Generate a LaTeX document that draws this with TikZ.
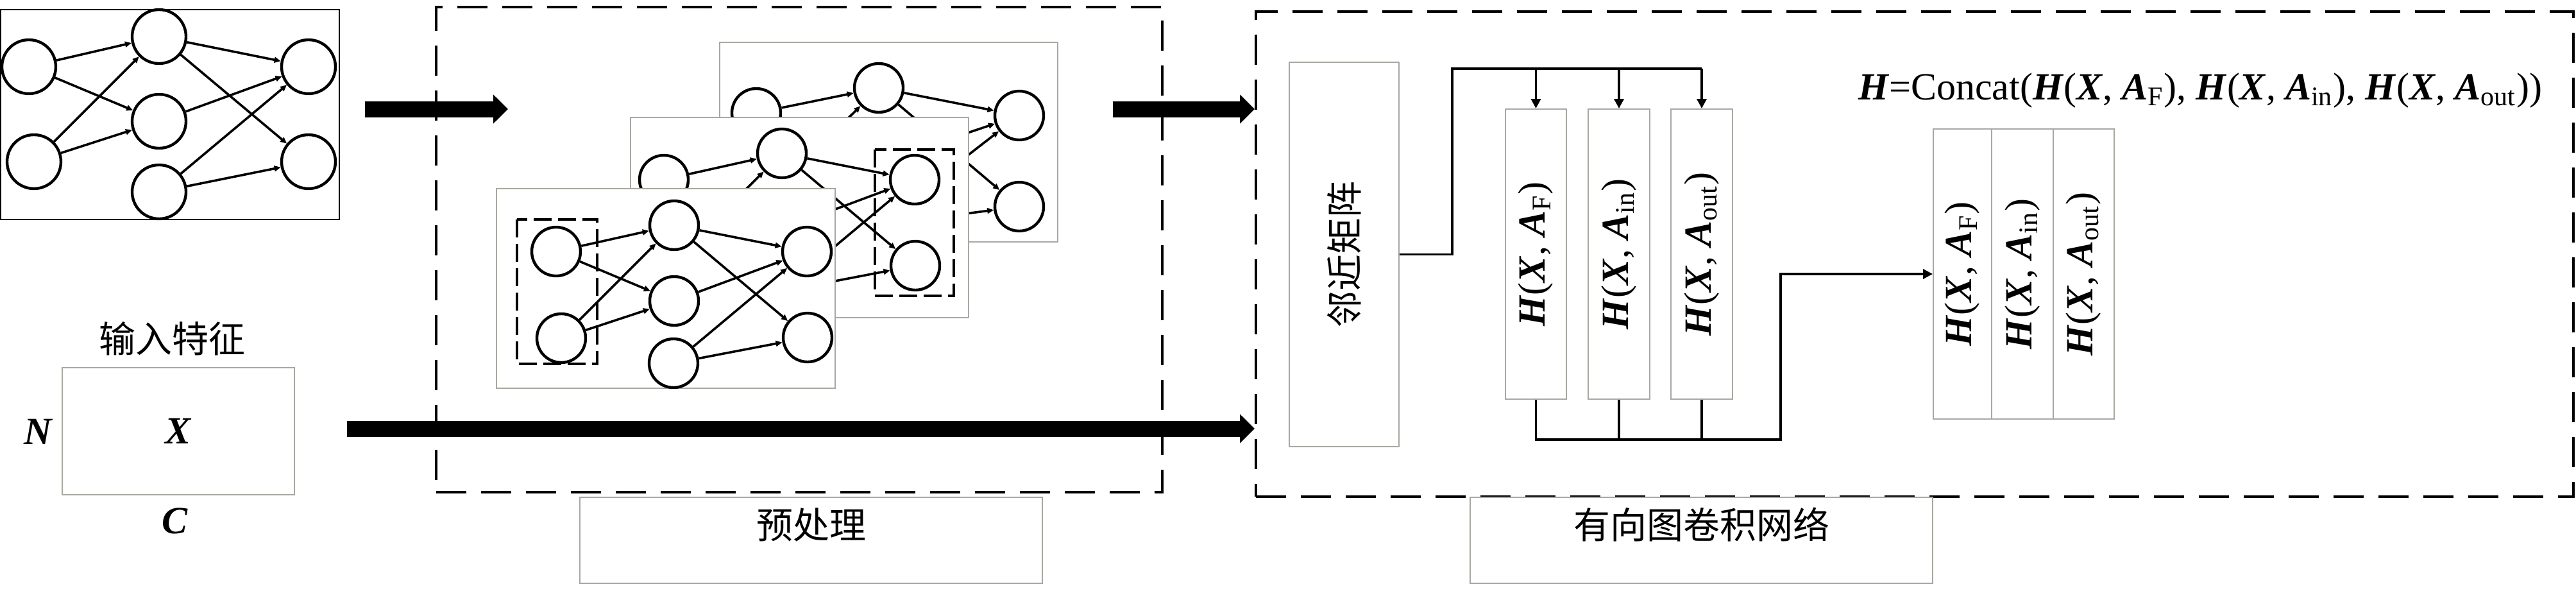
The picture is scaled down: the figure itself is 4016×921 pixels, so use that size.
\documentclass[tikz,border=0pt]{standalone}
\usepackage{fontspec}
\setmainfont{Liberation Serif}
\newfontfamily\cjk{Noto Sans CJK SC}
\usetikzlibrary{arrows.meta,fit}
\newcommand{\boldvar}[1]{\textbf{\textit{#1}}}

\tikzset{every picture/.style={line width=0.75pt}}
\tikzset{
  dashbox/.style={draw, line width=1pt, dash pattern=on 11.75pt off 5.75pt, inner sep=0pt},
  graybox/.style={draw={rgb, 255:red, 170; green, 167; blue, 163 }, line width=0.5pt, inner sep=0pt},
  panel/.style={graybox, fill=white},
  netframe/.style={draw, line width=0.6pt, inner sep=0pt},
  bignode/.style={circle, draw, fill=white, line width=1.1pt, inner sep=0pt, minimum size=21pt},
  gnode/.style={circle, draw, fill=white, line width=1.1pt, inner sep=0pt, minimum size=19pt},
  gedge/.style={line width=0.9pt, -{Triangle[length=2.5pt,width=2.2pt]}},
  subbox/.style={line width=0.9pt, dash pattern=on 7pt off 2.5pt},
  bigarrow/.style={line width=6.25pt, -{Triangle[length=5.75pt,width=11pt]}},
  conn/.style={line width=0.9pt},
  connarrow/.style={line width=0.9pt, -{Triangle[length=3.75pt,width=3.75pt]}},
  cjktext/.style={font=\cjk\fontsize{14.25}{17}\selectfont},
  vartext/.style={font=\fontsize{15}{18}\selectfont}
}

\begin{document}
\begin{tikzpicture}[x=0.25pt,y=0.25pt,yscale=-1,xscale=1]
	\useasboundingbox (0,0) rectangle (4016,921);

	%Shape: Dashed Rectangles
	\node[dashbox, fit={(680,11) (1812,767)}] (pre) {};
	\node[dashbox, fit={(1958,18) (4012,774)}] (gcn) {};

	%Input graph
	\node[netframe, fit={(1,15) (529,342)}] (net) {};
	\node[bignode] (al1) at (45,104) {};
	\node[bignode] (al2) at (53,252) {};
	\node[bignode] (am1) at (248,57) {};
	\node[bignode] (am2) at (248,189) {};
	\node[bignode] (am3) at (248,299) {};
	\node[bignode] (ar1) at (481,104) {};
	\node[bignode] (ar2) at (481,252) {};
	\draw[gedge] (al1) -- (am1);
	\draw[gedge] (al1) -- (am2);
	\draw[gedge] (al2) -- (am1);
	\draw[gedge] (al2) -- (am2);
	\draw[gedge] (am1) -- (ar1);
	\draw[gedge] (am1) -- (ar2);
	\draw[gedge] (am2) -- (ar1);
	\draw[gedge] (am3) -- (ar1);
	\draw[gedge] (am3) -- (ar2);

	%Input features
	\node[graybox, fit={(97,573) (459,771)}] (xbox) {};
	\node[cjktext] (xcap) at (268,528) {输入特征};
	\node[vartext] (xname) at (xbox) {\boldvar{X}};
	\node[vartext] (nrows) at (60,673) {\boldvar{N}};
	\node[vartext] (ncols) at (273,812) {\boldvar{C}};

	%Back panel
	\node[panel, fit={(1122,66) (1649,377)}] (bpanel) {};
	\node[gnode] (bl1) at (1179,176) {};
	\node[gnode] (bl2) at (1193,312) {};
	\node[gnode] (bm1) at (1370,137) {};
	\node[gnode] (bm2) at (1369,254) {};
	\node[gnode] (bm3) at (1368,351) {};
	\node[gnode] (br1) at (1589,180) {};
	\node[gnode] (br2) at (1589,322) {};
	\draw[gedge] (bl1) -- (bm1);
	\draw[gedge] (bl1) -- (bm2);
	\draw[gedge] (bl2) -- (bm1);
	\draw[gedge] (bl2) -- (bm2);
	\draw[gedge] (bm1) -- (br1);
	\draw[gedge] (bm1) -- (br2);
	\draw[gedge] (bm2) -- (br1);
	\draw[gedge] (bm3) -- (br1);
	\draw[gedge] (bm3) -- (br2);

	%Middle panel
	\node[panel, fit={(983,183) (1510,495)}] (mpanel) {};
	\node[gnode] (ml1) at (1035,280) {};
	\node[gnode] (ml2) at (1043,415) {};
	\node[gnode] (mm1) at (1219,239) {};
	\node[gnode] (mm2) at (1219,357) {};
	\node[gnode] (mm3) at (1218,454) {};
	\node[gnode] (mr1) at (1426,280) {};
	\node[gnode] (mr2) at (1427,414) {};
	\draw[gedge] (ml1) -- (mm1);
	\draw[gedge] (ml1) -- (mm2);
	\draw[gedge] (ml2) -- (mm1);
	\draw[gedge] (ml2) -- (mm2);
	\draw[gedge] (mm1) -- (mr1);
	\draw[gedge] (mm1) -- (mr2);
	\draw[gedge] (mm2) -- (mr1);
	\draw[gedge] (mm3) -- (mr1);
	\draw[gedge] (mm3) -- (mr2);
	\draw[subbox] (1364,233) rectangle (1487,461);

	%Front panel
	\node[panel, fit={(774,294) (1302,605)}] (fpanel) {};
	\node[gnode] (fl1) at (867,392) {};
	\node[gnode] (fl2) at (875,527) {};
	\node[gnode] (fm1) at (1051,351) {};
	\node[gnode] (fm2) at (1051,469) {};
	\node[gnode] (fm3) at (1050,566) {};
	\node[gnode] (fr1) at (1258,392) {};
	\node[gnode] (fr2) at (1259,526) {};
	\draw[gedge] (fl1) -- (fm1);
	\draw[gedge] (fl1) -- (fm2);
	\draw[gedge] (fl2) -- (fm1);
	\draw[gedge] (fl2) -- (fm2);
	\draw[gedge] (fm1) -- (fr1);
	\draw[gedge] (fm1) -- (fr2);
	\draw[gedge] (fm2) -- (fr1);
	\draw[gedge] (fm3) -- (fr1);
	\draw[gedge] (fm3) -- (fr2);
	\draw[subbox] (806,342) rectangle (931,567);

	%Thick arrows
	\coordinate (netout) at (569,170);
	\coordinate (prein) at (792,170);
	\coordinate (preout) at (1735,170);
	\coordinate (xout) at (541,668);
	\draw[bigarrow] (netout) -- (prein);
	\draw[bigarrow] (preout) -- (gcn.west |- preout);
	\draw[bigarrow] (xout) -- (gcn.west |- xout);

	%Adjacency matrix
	\node[graybox, fit={(2010,97) (2181,696)}] (adj) {};
	\node[cjktext, rotate=90] (adjname) at (adj) {邻近矩阵};

	%Graph convolutions
	\node[graybox, fit={(2347,170) (2442,622)}] (hf) {};
	\node[graybox, fit={(2476,170) (2572,622)}] (hin) {};
	\node[graybox, fit={(2605,170) (2701,622)}] (hout) {};
	\node[vartext, rotate=90] (hfname) at (hf) {\boldvar{H}(\boldvar{X}, \boldvar{A}\textsubscript{F})};
	\node[vartext, rotate=90] (hinname) at (hin) {\boldvar{H}(\boldvar{X}, \boldvar{A}\textsubscript{in})};
	\node[vartext, rotate=90] (houtname) at (hout) {\boldvar{H}(\boldvar{X}, \boldvar{A}\textsubscript{out})};

	%Straight Lines
	\coordinate (tapl) at (2264,107);
	\draw[conn] (adj.east) -| (tapl) -- (hout.north |- tapl);
	\draw[connarrow] (hf.north |- tapl) -- (hf.north);
	\draw[connarrow] (hin.north |- tapl) -- (hin.north);
	\draw[connarrow] (hout.north |- tapl) -- (hout.north);

	%Concatenation
	\node[graybox, fit={(3014,201) (3105,653)}] (cf) {};
	\node[graybox, fit={(3105,201) (3201,653)}] (cin) {};
	\node[graybox, fit={(3201,201) (3296,653)}] (cout) {};
	\node[vartext, rotate=90] (cfname) at (cf) {\boldvar{H}(\boldvar{X}, \boldvar{A}\textsubscript{F})};
	\node[vartext, rotate=90] (cinname) at (cin) {\boldvar{H}(\boldvar{X}, \boldvar{A}\textsubscript{in})};
	\node[vartext, rotate=90] (coutname) at (cout) {\boldvar{H}(\boldvar{X}, \boldvar{A}\textsubscript{out})};

	%Straight Lines
	\coordinate (busr) at (2776,685);
	\draw[connarrow] (hf.south) |- (busr) |- (cf.west);
	\draw[conn] (hin.south) -- (hin.south |- busr);
	\draw[conn] (hout.south) -- (hout.south |- busr);

	% Text Node
	\node[vartext] (formula) at (3430,141) {\boldvar{H}=Concat(\boldvar{H}(\boldvar{X}, \boldvar{A}\textsubscript{F}), \boldvar{H}(\boldvar{X}, \boldvar{A}\textsubscript{in}), \boldvar{H}(\boldvar{X}, \boldvar{A}\textsubscript{out}))};

	%Stage labels
	\node[graybox, cjktext, fit={(904,775) (1625,909)}] (prelbl) {预处理};
	\node[graybox, cjktext, fit={(2292,775) (3013,909)}] (gcnlbl) {有向图卷积网络};

\end{tikzpicture}
\end{document}
